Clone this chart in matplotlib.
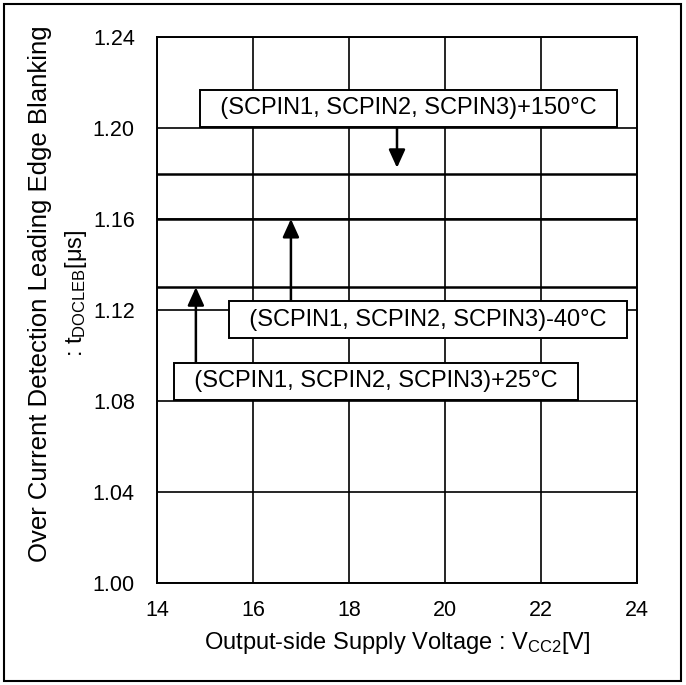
import numpy as np
import matplotlib.pyplot as plt
from matplotlib.patches import Rectangle

plt.rcParams['font.family'] = ['Liberation Sans', 'DejaVu Sans']
plt.rcParams['mathtext.default'] = 'regular'

# supply voltage sweep and measured blanking time per temperature
vcc2 = [14, 24]
t_150 = [1.18, 1.18]
t_m40 = [1.16, 1.16]
t_25 = [1.13, 1.13]

labels = ['(SCPIN1, SCPIN2, SCPIN3)+150°C',
          '(SCPIN1, SCPIN2, SCPIN3)-40°C',
          '(SCPIN1, SCPIN2, SCPIN3)+25°C']
xticks = [14, 16, 18, 20, 22, 24]
yticks = [1.00, 1.04, 1.08, 1.12, 1.16, 1.20, 1.24]

fig = plt.figure(figsize=(6.86, 6.85), dpi=100)
ax = fig.add_axes([157/686, 102/685, 480/686, 546/685])

ax.plot(vcc2, t_150, color='black', lw=1.8)
ax.plot(vcc2, t_m40, color='black', lw=1.8)
ax.plot(vcc2, t_25, color='black', lw=1.8)

ax.set_xlim(14, 24)
ax.set_ylim(1.00, 1.24)
ax.set_xticks(xticks)
ax.set_yticks(yticks)
ax.set_yticklabels([f'{v:.2f}' for v in yticks])
ax.grid(True, color='black', lw=1.2)
ax.tick_params(length=0, labelsize=15.5)
ax.tick_params(axis='x', pad=12)
ax.tick_params(axis='y', pad=16)
for s in ax.spines.values():
    s.set_linewidth(1.4)

ax.set_xlabel('Output-side Supply Voltage : V$_{CC2}$[V]', fontsize=17, labelpad=7)
fig.text(40/686, 1 - 294/685, 'Over Current Detection Leading Edge Blanking',
         rotation=90, ha='center', va='center', fontsize=18.5)
fig.text(76/686, 1 - 293/685, ': t$_{DOCLEB}$[μs]',
         rotation=90, ha='center', va='center', fontsize=17)

box = dict(boxstyle='square,pad=0.3', fc='white', ec='black', lw=1.4)
arrow = dict(arrowstyle='-|>,head_length=1.1,head_width=0.5', color='black', lw=1.8,
             shrinkA=0, shrinkB=0)

# +150 degC label, arrow pointing down onto the line
ax.annotate('', xy=(19.0, t_150[0] + 0.0025), xytext=(19.0, 1.200),
            arrowprops=arrow)
ax.text(19.23, 1.2086, '  ' + labels[0] + '  ', ha='center', va='center',
        fontsize=17, bbox=box, zorder=5)

# -40 degC label
ax.annotate('', xy=(16.79, t_m40[0]), xytext=(16.79, 1.122),
            arrowprops=arrow)
ax.text(19.65, 1.1158, '  ' + labels[1] + '  ', ha='center', va='center',
        fontsize=17, bbox=box, zorder=5)

# +25 degC label
ax.annotate('', xy=(14.81, t_25[0]), xytext=(14.81, 1.094),
            arrowprops=arrow)
ax.text(18.56, 1.0886, '  ' + labels[2] + '  ', ha='center', va='center',
        fontsize=17, bbox=box, zorder=5)

fig.patches.append(Rectangle((4/686, 4/685), 677/686, 677/685, transform=fig.transFigure,
                             fill=False, ec='black', lw=1.5))

fig.savefig('out.png', dpi=100)
